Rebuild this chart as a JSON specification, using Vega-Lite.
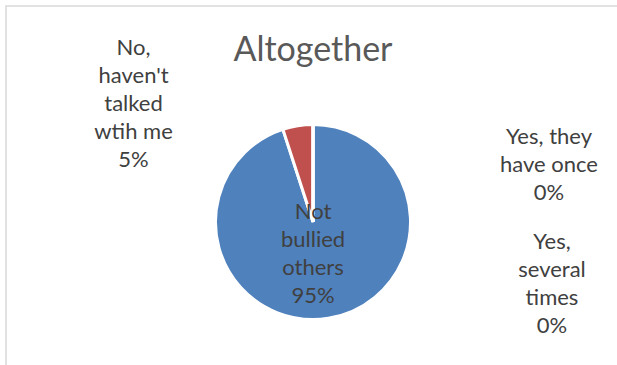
{
  "$schema": "https://vega.github.io/schema/vega-lite/v6.json",
  "width": 614,
  "height": 432,
  "autosize": {"type": "none"},
  "padding": {"left": 6, "top": 6, "right": -3, "bottom": -73},
  "background": "white",
  "config": {"view": {"stroke": null}, "font": "Lato"},
  "title": {"text": "Altogether", "fontSize": 34, "font": "Lato", "fontWeight": "normal", "color": "#595959", "anchor": "middle", "orient": "top", "baseline": "alphabetic", "offset": -90},
  "data": {"values": [
    {"category": "Not bullied others", "percent": 95, "order": 1, "label": "Not\nbullied\nothers\n95%"},
    {"category": "No, haven't talked wtih me", "percent": 5, "order": 2, "label": "No,\nhaven't\ntalked\nwtih me\n5%"},
    {"category": "Yes, they have once", "percent": 0, "order": 3, "label": "Yes, they\nhave once\n0%"},
    {"category": "Yes, several times", "percent": 0, "order": 4, "label": "Yes,\nseveral\ntimes\n0%"}
  ]},
  "encoding": {
    "theta": {"field": "percent", "type": "quantitative", "stack": true},
    "order": {"field": "order", "type": "quantitative"}
  },
  "layer": [
    {
      "data": {"values": [{}]},
      "mark": {"type": "rect", "fill": null, "stroke": "#d9d9d9", "strokeWidth": 1.5},
      "encoding": {"theta": null, "order": null}
    },
    {
      "mark": {"type": "arc", "outerRadius": 97.5, "stroke": "white", "strokeWidth": 3},
      "encoding": {
        "color": {"field": "category", "type": "nominal", "legend": null,
          "scale": {"domain": ["Not bullied others", "No, haven't talked wtih me", "Yes, they have once", "Yes, several times"],
                    "range": ["#4F81BD", "#C0504D", "#9BBB59", "#8064A2"]}}
      }
    },
    {
      "mark": {"type": "text", "radius": 32, "dx": -5, "dy": -42, "lineBreak": "\n", "fontSize": 22, "lineHeight": 28, "color": "#404040", "baseline": "middle", "align": "center"},
      "encoding": {"text": {"condition": {"test": "datum.order == 1", "field": "label"}, "value": ""}}
    },
    {
      "mark": {"type": "text", "radius": 150, "dx": -156, "dy": -26, "lineBreak": "\n", "fontSize": 22, "lineHeight": 28, "color": "#404040", "baseline": "middle", "align": "center"},
      "encoding": {"text": {"condition": {"test": "datum.order == 2", "field": "label"}, "value": ""}}
    },
    {
      "mark": {"type": "text", "radius": 150, "dx": 236, "dy": 65, "lineBreak": "\n", "fontSize": 22, "lineHeight": 28, "color": "#404040", "baseline": "middle", "align": "center"},
      "encoding": {"text": {"condition": {"test": "datum.order == 3", "field": "label"}, "value": ""}}
    },
    {
      "mark": {"type": "text", "radius": 150, "dx": 239, "dy": 170, "lineBreak": "\n", "fontSize": 22, "lineHeight": 28, "color": "#404040", "baseline": "middle", "align": "center"},
      "encoding": {"text": {"condition": {"test": "datum.order == 4", "field": "label"}, "value": ""}}
    }
  ]
}
